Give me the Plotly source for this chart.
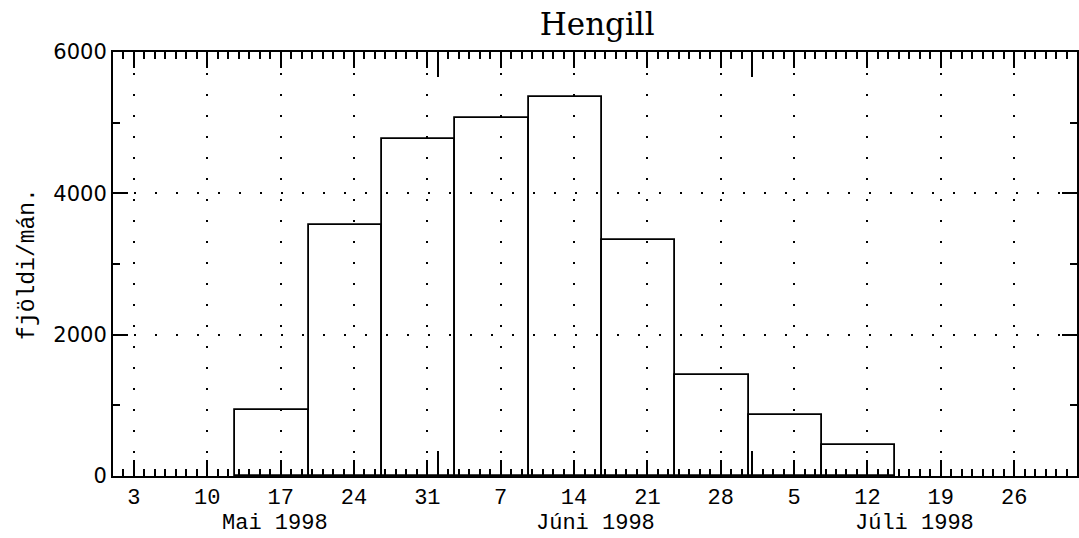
import plotly.graph_objects as go

# ---- data ----
bin_centers = ["1998-05-16 04:00", "1998-05-23 04:00", "1998-05-30 04:00",
               "1998-06-06 04:00", "1998-06-13 04:00", "1998-06-20 04:00",
               "1998-06-27 04:00", "1998-07-04 04:00", "1998-07-11 04:00"]
counts = [930, 3550, 4770, 5060, 5365, 3340, 1425, 868, 433]

week_ticks = ["1998-05-03", "1998-05-10", "1998-05-17", "1998-05-24", "1998-05-31",
              "1998-06-07", "1998-06-14", "1998-06-21", "1998-06-28",
              "1998-07-05", "1998-07-12", "1998-07-19", "1998-07-26"]
week_labels = ["3", "10", "17", "24", "31", "7", "14", "21", "28", "5", "12", "19", "26"]

month_starts = ["1998-06-01", "1998-07-01"]
month_mids = ["1998-05-16 12:00", "1998-06-16 00:00", "1998-07-16 12:00"]
month_labels = ["Mai 1998", "Júni 1998", "Júli 1998"]

y_ticks = [0, 2000, 4000, 6000]

x_range = ["1998-05-01", "1998-08-01"]
DAY_MS = 86400000
BIN_DAYS = 7

mono = "Liberation Mono"

fig = go.Figure()
fig.add_trace(go.Bar(
    x=bin_centers, y=counts, width=BIN_DAYS * DAY_MS,
    marker=dict(color="rgba(0,0,0,0)", line=dict(color="black", width=1.8)),
    showlegend=False, hoverinfo="skip"))
# helper (invisible) trace for the month-tick axis
fig.add_trace(go.Scatter(x=x_range, y=[0, 0], xaxis="x2", mode="markers",
                         marker=dict(opacity=0), showlegend=False, hoverinfo="skip"))

fig.update_layout(
    width=1079, height=538,
    margin=dict(l=113, r=0, t=52, b=62),
    paper_bgcolor="white", plot_bgcolor="white",
    title=dict(text="Hengill", x=0.5535, xanchor="center", y=0.955, yanchor="middle",
               font=dict(family="DejaVu Serif", size=31, color="black")),
    xaxis=dict(
        type="date", range=x_range, tickmode="array",
        tickvals=week_ticks, ticktext=week_labels,
        ticks="inside", ticklen=16, tickwidth=1.5, tickcolor="black",
        showline=True, linecolor="black", linewidth=2, mirror="ticks",
        showgrid=True, gridcolor="black", gridwidth=2, griddash="2px,19px",
        zeroline=False,
        tickfont=dict(family=mono, size=22, color="black"),
        minor=dict(dtick=DAY_MS, tick0="1998-05-01", ticks="inside", ticklen=7,
                   tickwidth=1.5, tickcolor="black", showgrid=False),
    ),
    xaxis2=dict(
        type="date", range=x_range, overlaying="x", side="bottom", anchor="y",
        tickmode="array", tickvals=month_starts, showticklabels=False,
        ticks="inside", ticklen=25, tickwidth=1.5, tickcolor="black",
        mirror="ticks", showline=False, showgrid=False, zeroline=False,
    ),
    yaxis=dict(
        range=[0, 6000], tickmode="array", tickvals=y_ticks,
        ticks="inside", ticklen=15, tickwidth=1.5, tickcolor="black",
        showline=True, linecolor="black", linewidth=2, mirror="ticks",
        showgrid=True, gridcolor="black", gridwidth=2, griddash="2px,19px",
        zeroline=False,
        tickfont=dict(family="DejaVu Sans", size=21, color="black"),
        minor=dict(dtick=1000, ticks="inside", ticklen=7, tickwidth=1.5,
                   tickcolor="black", showgrid=False),
        title=dict(text="fjöldi/mán.", standoff=12,
                   font=dict(family=mono, size=23, color="black")),
    ),
    bargap=0,
)

for mid, lab in zip(month_mids, month_labels):
    fig.add_annotation(x=mid, y=-0.112, xref="x", yref="paper", text=lab,
                       showarrow=False, xanchor="center", yanchor="middle",
                       font=dict(family=mono, size=22, color="black"))

fig.write_html("out.html")
